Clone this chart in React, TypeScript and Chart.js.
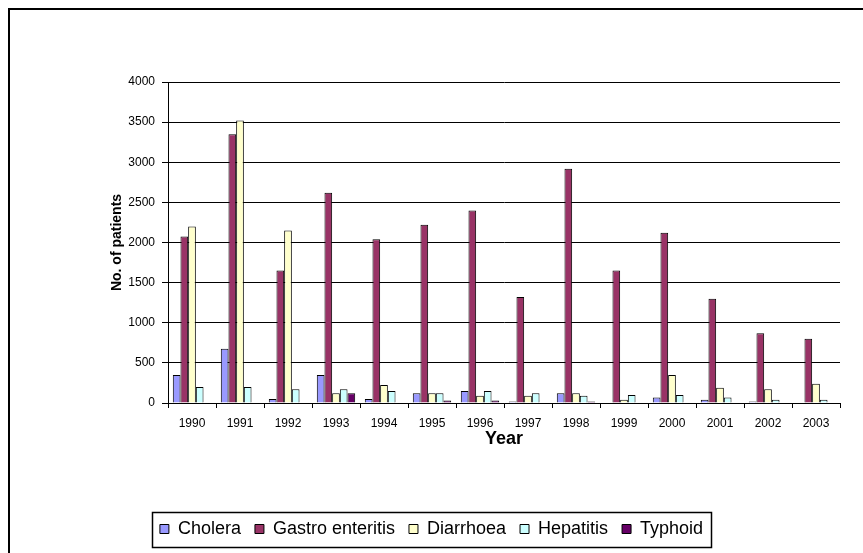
import React, { useEffect, useRef } from 'react';
import { Chart, registerables } from 'chart.js';

Chart.register(...registerables);

const years = ['1990', '1991', '1992', '1993', '1994', '1995', '1996', '1997', '1998', '1999', '2000', '2001', '2002', '2003'];
const cholera = [350, 675, 50, 350, 50, 120, 150, 20, 120, 0, 70, 40, 20, 0];
const gastroEnteritis = [2075, 3350, 1650, 2620, 2040, 2220, 2400, 1320, 2920, 1650, 2120, 1300, 870, 800];
const diarrhoea = [2200, 3520, 2150, 120, 225, 120, 90, 90, 120, 40, 350, 190, 170, 240];
const hepatitis = [200, 200, 170, 170, 150, 120, 150, 120, 90, 100, 100, 70, 40, 40];
const typhoid = [0, 0, 0, 120, 0, 30, 30, 0, 20, 0, 0, 0, 0, 0];

const yMin = 0;
const yMax = 4000;
const yStep = 500;

const seriesNames = ['Cholera', 'Gastro enteritis', 'Diarrhoea', 'Hepatitis', 'Typhoid'];
const seriesColors = ['#9999FF', '#993366', '#FFFFCC', '#CCFFFF', '#660066'];

const FONT = "'Liberation Sans', Arial, sans-serif";

const frameAndLegendBox = {
  id: 'frameAndLegendBox',
  beforeDraw(chart: any) {
    const ctx = chart.ctx;
    ctx.save();
    ctx.fillStyle = '#ffffff';
    ctx.fillRect(0, 0, chart.width, chart.height);
    ctx.restore();
  },
  afterDraw(chart: any) {
    const ctx = chart.ctx;
    ctx.save();
    ctx.strokeStyle = '#000000';
    ctx.lineWidth = 2;
    ctx.strokeRect(9, 9, chart.width + 50, chart.height + 50);
    const legend = chart.legend;
    if (legend && legend.legendHitBoxes && legend.legendHitBoxes.length) {
      const boxes = legend.legendHitBoxes;
      let l = Infinity, r = -Infinity, t = Infinity, b = -Infinity;
      boxes.forEach((h: any) => {
        l = Math.min(l, h.left);
        r = Math.max(r, h.left + h.width);
        t = Math.min(t, h.top);
        b = Math.max(b, h.top + h.height);
      });
      ctx.lineWidth = 1.5;
      ctx.strokeRect(Math.round(l - 8) + 0.5, Math.round(t - 8) + 0.5, Math.round(r - l + 16), Math.round(b - t + 17));
    }
    ctx.restore();
  },
};

export default function App() {
  const canvasRef = useRef<HTMLCanvasElement | null>(null);

  useEffect(() => {
    if (!canvasRef.current) return;
    const series = [cholera, gastroEnteritis, diarrhoea, hepatitis, typhoid];
    const chart = new Chart(canvasRef.current, {
      type: 'bar',
      data: {
        labels: years,
        datasets: series.map((d, i) => ({
          label: seriesNames[i],
          data: d,
          backgroundColor: seriesColors[i],
          borderColor: '#000000',
          borderWidth: 1,
          categoryPercentage: 0.8,
          barPercentage: 1.0,
        })),
      },
      options: {
        responsive: false,
        animation: false,
        devicePixelRatio: 1,
        layout: { padding: { left: 23, top: 82, right: 23, bottom: 5 } },
        plugins: {
          tooltip: { enabled: false },
          legend: {
            position: 'bottom',
            labels: {
              color: '#000000',
              font: { family: FONT, size: 18 },
              boxWidth: 9,
              boxHeight: 9,
              padding: 14,
            },
          },
        },
        scales: {
          x: {
            afterFit: (scale: any) => { scale.height = 103; },
            offset: true,
            grid: {
              offset: true,
              drawOnChartArea: false,
              drawTicks: true,
              tickLength: 5,
              color: '#000000',
            },
            border: { display: true, color: '#000000', width: 1 },
            ticks: {
              color: '#000000',
              font: { family: FONT, size: 12 },
              padding: 8,
              maxRotation: 0,
              autoSkip: false,
            },
            title: {
              display: true,
              text: 'Year',
              color: '#000000',
              font: { family: FONT, size: 18, weight: 'bold' },
              padding: { top: 0, bottom: 56 },
            },
          },
          y: {
            afterFit: (scale: any) => { scale.width = 145; },
            min: yMin,
            max: yMax,
            grid: {
              color: '#000000',
              lineWidth: 1,
              drawTicks: true,
              tickLength: 6,
            },
            border: { display: true, color: '#000000', width: 1 },
            ticks: {
              stepSize: yStep,
              color: '#000000',
              font: { family: FONT, size: 12 },
              padding: 7,
              callback: (v: any) => String(v),
            },
            title: {
              display: true,
              text: 'No. of patients',
              color: '#000000',
              font: { family: FONT, size: 14, weight: 'bold' },
              padding: { top: 86, bottom: 0 },
            },
          },
        },
      },
      plugins: [frameAndLegendBox],
    });
    return () => chart.destroy();
  }, []);

  return (
    <div style={{ position: 'fixed', left: 0, top: 0, width: 863, height: 553, overflow: 'hidden', background: '#fff' }}>
      <canvas ref={canvasRef} width={863} height={553} style={{ display: 'block', width: 863, height: 553 }} />
    </div>
  );
}
